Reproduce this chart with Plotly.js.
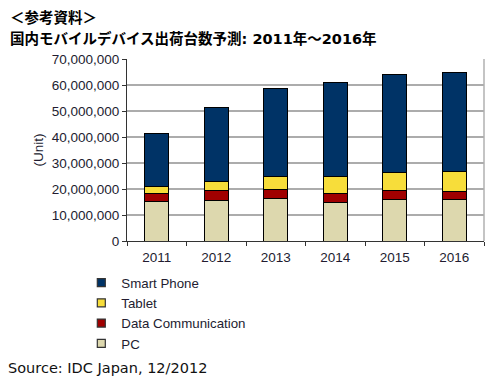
<!DOCTYPE html>
<html><head><meta charset="utf-8">
<script src="https://cdn.plot.ly/plotly-3.0.1.min.js"></script>
<style>html,body{margin:0;padding:0;background:#fff;}#chart{width:504px;height:388px;}</style>
</head><body><div id="chart"></div>
<script>
const years = ['2011','2012','2013','2014','2015','2016'];
const pc = [15300000,15700000,16500000,14800000,16100000,16100000];
const dataComm = [3000000,3700000,3200000,3300000,3300000,2800000];
const tablet = [2800000,3600000,5200000,6800000,7100000,7900000];
const smartPhone = [20100000,28500000,33800000,36200000,37700000,38100000];
const tickVals = [0,10000000,20000000,30000000,40000000,50000000,60000000,70000000];
const tickText = ['0','10,000,000','20,000,000','30,000,000','40,000,000','50,000,000','60,000,000','70,000,000'];

const series = [
  {name:'PC', y:pc, color:'#ddd8ae'},
  {name:'Data Communication', y:dataComm, color:'#a00000'},
  {name:'Tablet', y:tablet, color:'#f7dd3a'},
  {name:'Smart Phone', y:smartPhone, color:'#003366'}
];
const traces = [];
series.forEach(s => {
  traces.push({type:'bar', name:s.name, x:years, y:s.y, width:0.4, showlegend:false,
    marker:{color:s.color, line:{color:'#000', width:1}}, hoverinfo:'none'});
});
series.forEach(s => {
  traces.push({type:'scatter', mode:'markers', name:s.name, x:[null], y:[null], showlegend:true,
    marker:{symbol:'square', size:8, color:s.color, line:{color:'#333', width:1.2}}, hoverinfo:'none'});
});
const tf = {family:'Arial, Liberation Sans, sans-serif', size:13.5, color:'#221c30'};
const lf = {family:'Arial, Liberation Sans, sans-serif', size:13.3, color:'#221c30'};
const layout = {
  width:504, height:388, barmode:'stack', showlegend:true,
  paper_bgcolor:'#fff', plot_bgcolor:'#fff',
  margin:{l:127, r:20, t:59, b:147},
  xaxis:{type:'category', tickfont:tf, ticks:'outside', tickson:'boundaries', ticklen:4,
    ticklabelstandoff:4,
    tickcolor:'#333', showline:true, linecolor:'#333', linewidth:1, showgrid:false, fixedrange:true},
  yaxis:{range:[0,70000000], tickvals:tickVals, ticktext:tickText, tickfont:tf,
    ticks:'outside', ticklen:4, tickcolor:'#333', showline:true, linecolor:'#333', linewidth:1,
    gridcolor:'#acacac', gridwidth:1.3, zeroline:false,
    title:{text:'(Unit)', font:tf, standoff:4}},
  legend:{traceorder:'reversed', orientation:'v', x:-0.128, xanchor:'left', y:-0.145, yanchor:'top',
    font:lf, itemwidth:30, tracegroupgap:0, bgcolor:'rgba(0,0,0,0)'},
  shapes:[{type:'line', xref:'paper', yref:'paper', x0:1, x1:1, y0:0, y1:1, line:{color:'#b0b0b0', width:1.5}}],
  annotations:[
    {xref:'paper', yref:'paper', x:-0.333, y:1.0, yshift:42, xanchor:'left', yanchor:'middle', showarrow:false,
     text:'<b>＜参考資料＞</b>', font:{family:'DejaVu Sans, Noto Sans CJK JP', size:14.5, color:'#000'}},
    {xref:'paper', yref:'paper', x:-0.333, y:1.0, yshift:21, xanchor:'left', yanchor:'middle', showarrow:false,
     text:'<b>国内モバイルデバイス出荷台数予測: 2011年～2016年</b>', font:{family:'DejaVu Sans, Noto Sans CJK JP', size:14.5, color:'#000'}},
    {xref:'paper', yref:'paper', x:-0.339, y:0, yshift:-127, xanchor:'left', yanchor:'middle', showarrow:false,
     text:'Source: IDC Japan, 12/2012', font:{family:'DejaVu Sans, Verdana, sans-serif', size:14.5, color:'#111'}}
  ]
};
Plotly.newPlot('chart', traces, layout, {displayModeBar:false, staticPlot:true});
</script></body></html>
